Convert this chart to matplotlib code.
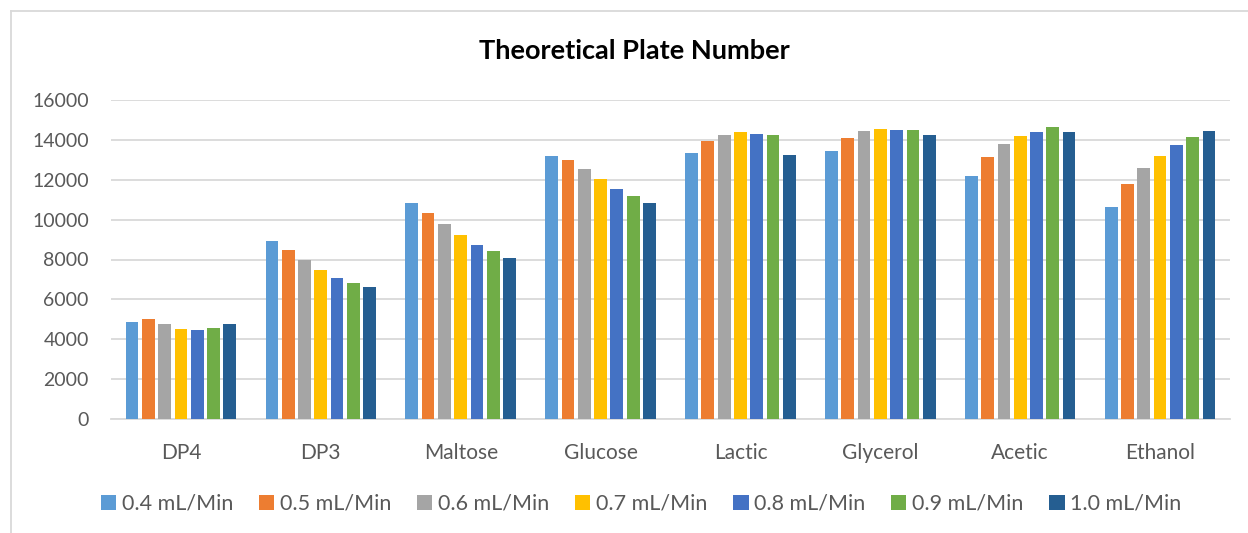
import matplotlib
matplotlib.use("Agg")
import matplotlib.pyplot as plt
from matplotlib.patches import Patch
from matplotlib.lines import Line2D
import numpy as np

plt.rcParams['font.family'] = ['Lato', 'DejaVu Sans']

categories = ["DP4", "DP3", "Maltose", "Glucose", "Lactic", "Glycerol", "Acetic", "Ethanol"]
series_labels = ["0.4 mL/Min", "0.5 mL/Min", "0.6 mL/Min", "0.7 mL/Min",
                 "0.8 mL/Min", "0.9 mL/Min", "1.0 mL/Min"]

flow_04 = [4870, 8920, 10820, 13200, 13320, 13420, 12170, 10620]
flow_05 = [5000, 8470, 10330, 12970, 13950, 14100, 13150, 11770]
flow_06 = [4770, 7950, 9770, 12530, 14250, 14430, 13780, 12600]
flow_07 = [4500, 7450, 9220, 12030, 14370, 14550, 14180, 13200]
flow_08 = [4480, 7050, 8750, 11550, 14300, 14520, 14420, 13720]
flow_09 = [4570, 6820, 8430, 11200, 14250, 14500, 14670, 14120]
flow_10 = [4770, 6600, 8100, 10820, 13250, 14220, 14420, 14450]

series = [flow_04, flow_05, flow_06, flow_07, flow_08, flow_09, flow_10]
colors = ["#5B9BD5", "#ED7D31", "#A5A5A5", "#FFC000", "#4472C4", "#70AD47", "#255E91"]

W, H = 1248, 533
fig = plt.figure(figsize=(W / 100, H / 100), dpi=100)
ax = fig.add_axes([111 / W, 1 - 419 / H, (1230 - 111) / W, (419 - 100) / H])

text_color = "#595959"
grid_color = "#D9D9D9"

x = np.arange(len(categories))
pitch = 0.1165
bar_w = 0.091
n = len(series)
for i, (vals, col) in enumerate(zip(series, colors)):
    offs = (i - (n - 1) / 2) * pitch
    ax.bar(x + offs, vals, width=bar_w, color=col, edgecolor="none", zorder=3)

ax.set_xlim(-0.5, len(categories) - 0.5)
ax.set_ylim(0, 16000)
ax.set_yticks(np.arange(0, 16001, 2000))
ax.set_xticks(x)
ax.set_xticklabels(categories)
ax.yaxis.grid(True, color=grid_color, linewidth=1.3, zorder=0)
ax.set_axisbelow(True)
for side in ["top", "right", "left"]:
    ax.spines[side].set_visible(False)
ax.spines["bottom"].set_color(grid_color)
ax.spines["bottom"].set_linewidth(1.3)
ax.tick_params(axis="y", length=0, pad=16, labelsize=14, labelcolor=text_color)
ax.tick_params(axis="x", length=0, pad=17, labelsize=15, labelcolor=text_color)

fig.text(634 / W, 1 - 51 / H, "Theoretical Plate Number", ha="center", va="center",
         fontsize=19.5, fontweight="bold", color="black")

handles = [Patch(facecolor=c, edgecolor="none") for c in colors]
leg = fig.legend(handles, series_labels, loc="center", ncol=7,
                 bbox_to_anchor=(641 / W, 1 - 504 / H), frameon=False,
                 fontsize=15.5, labelcolor=text_color, handlelength=0.72,
                 handleheight=0.72, handletextpad=0.25, columnspacing=1.2)

# chart-area border (left and top edges)
fig.add_artist(Line2D([11 / W, 11 / W], [0, 1 - 11 / H], transform=fig.transFigure,
                      color=grid_color, linewidth=1.3))
fig.add_artist(Line2D([11 / W, 1], [1 - 11 / H, 1 - 11 / H], transform=fig.transFigure,
                      color=grid_color, linewidth=1.3))

fig.savefig("out.png", dpi=100)
